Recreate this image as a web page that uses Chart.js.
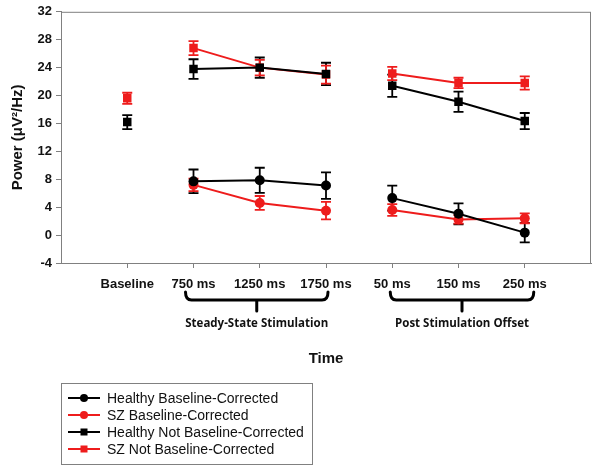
<!DOCTYPE html>
<html>
<head>
<meta charset="utf-8">
<script src="https://cdn.jsdelivr.net/npm/chart.js@4"></script>
<style>
  html, body { margin: 0; padding: 0; background: #fff; }
  #wrap { position: relative; width: 600px; height: 471px; }
  #legend {
    position: absolute; left: 61px; top: 383px; width: 252px; height: 82px;
    border: 1px solid #808080; box-sizing: border-box;
    font: 14px "Liberation Sans", Arial, sans-serif; color: #111;
    padding: 6px 0 0 6px;
  }
  #legend div { height: 17px; line-height: 17px; white-space: nowrap; }
  #legend svg { vertical-align: middle; margin-right: 7px; position: relative; top: -1px; }
</style>
</head>
<body>
<div id="wrap">
  <canvas id="powerChart" width="600" height="471"></canvas>
  <div id="legend"></div>
</div>
<script>
const timeLabels = ['', 'Baseline', '750 ms', '1250 ms', '1750 ms', '50 ms', '150 ms', '250 ms', ''];

// baseline-corrected (circles)
const healthyBC = [null, null, 7.7, 7.85, 7.1, 5.3, 3.05, 0.35, null];
const healthyBCErr = [0, 0, 1.7, 1.8, 1.9, 1.8, 1.5, 1.4, 0];
const szBC = [null, null, 7.2, 4.6, 3.5, 3.6, 2.25, 2.4, null];
const szBCErr = [0, 0, 0.9, 1.0, 1.25, 0.85, 0.6, 0.7, 0];

// not baseline-corrected (squares)
const healthyNBC = [null, 16.2, 23.8, 24.0, 23.1, 21.4, 19.1, 16.35, null];
const healthyNBCErr = [0, 1.0, 1.4, 1.45, 1.6, 1.6, 1.45, 1.15, 0];
const szNBC = [null, 19.6, 26.8, 24.0, 23.0, 23.15, 21.8, 21.8, null];
const szNBCErr = [0, 0.8, 1.0, 1.1, 1.3, 0.95, 0.75, 0.95, 0];

const RED = '#ee1c1c';
const BLACK = '#000000';

function series(label, data, err, color, style) {
    return {
        label: label,
        data: data,
        errors: err,
        borderColor: color,
        backgroundColor: color,
        borderWidth: 2,
        pointStyle: style,
        pointRadius: style === 'circle' ? 5 : 6,
        pointBorderWidth: 0,
        spanGaps: false,
        segment: {
            // no line from baseline, and none between the two blocks
            borderColor: ctx => (ctx.p0DataIndex === 1 || ctx.p0DataIndex === 4) ? 'transparent' : color
        }
    };
}

const errorBars = {
    id: 'errorBars',
    beforeDatasetsDraw(chart) {
        const ctx = chart.ctx;
        const y = chart.scales.y;
        ctx.save();
        chart.data.datasets.forEach((ds, di) => {
            const meta = chart.getDatasetMeta(di);
            ctx.strokeStyle = ds.borderColor;
            ctx.lineWidth = 1.8;
            meta.data.forEach((pt, i) => {
                const v = ds.data[i];
                if (v === null) return;
                const e = ds.errors[i];
                const top = y.getPixelForValue(v + e);
                const bot = y.getPixelForValue(v - e);
                ctx.beginPath();
                ctx.moveTo(pt.x, top); ctx.lineTo(pt.x, bot);
                ctx.moveTo(pt.x - 5, top); ctx.lineTo(pt.x + 5, top);
                ctx.moveTo(pt.x - 5, bot); ctx.lineTo(pt.x + 5, bot);
                ctx.stroke();
            });
        });
        ctx.restore();
    }
};

const frameAndBraces = {
    id: 'frameAndBraces',
    afterDraw(chart) {
        const ctx = chart.ctx;
        const a = chart.chartArea;
        const x = chart.scales.x;
        ctx.save();
        ctx.strokeStyle = '#808080';
        ctx.lineWidth = 1;
        ctx.strokeRect(a.left + 0.5, a.top + 0.5, a.right - a.left - 1, a.bottom - a.top);

        function brace(x0, x1, label) {
            const yTop = a.bottom + 29, yMid = a.bottom + 37, yTip = a.bottom + 48;
            const xc = (x0 + x1) / 2;
            ctx.strokeStyle = '#000';
            ctx.lineWidth = 3;
            ctx.lineCap = 'round';
            ctx.beginPath();
            ctx.moveTo(x0, yTop);
            ctx.quadraticCurveTo(x0, yMid, x0 + 6, yMid);
            ctx.lineTo(x1 - 6, yMid);
            ctx.quadraticCurveTo(x1, yMid, x1, yTop);
            ctx.moveTo(xc, yMid);
            ctx.lineTo(xc, yTip);
            ctx.stroke();
            ctx.fillStyle = '#111';
            ctx.font = 'bold 11.5px "Open Sans", sans-serif';
            ctx.textAlign = 'center';
            ctx.textBaseline = 'middle';
            ctx.fillText(label, xc, a.bottom + 61);
        }
        brace(x.getPixelForValue(2) - 8, x.getPixelForValue(4) + 2, 'Steady-State Stimulation');
        brace(x.getPixelForValue(5) - 2, x.getPixelForValue(7) + 9, 'Post Stimulation Offset');
        ctx.restore();
    }
};

const tickFont = { family: '"Liberation Sans", Arial, sans-serif', size: 13, weight: 'bold' };
const titleFont = { family: '"Liberation Sans", Arial, sans-serif', size: 15, weight: 'bold' };

new Chart(document.getElementById('powerChart').getContext('2d'), {
    type: 'line',
    data: {
        labels: timeLabels,
        datasets: [
            series('Healthy Baseline-Corrected', healthyBC, healthyBCErr, BLACK, 'circle'),
            series('SZ Baseline-Corrected', szBC, szBCErr, RED, 'circle'),
            series('Healthy Not Baseline-Corrected', healthyNBC, healthyNBCErr, BLACK, 'rect'),
            series('SZ Not Baseline-Corrected', szNBC, szNBCErr, RED, 'rect')
        ]
    },
    options: {
        responsive: false,
        animation: false,
        layout: { padding: { top: 11, right: 7, bottom: 103, left: 0 } },
        plugins: {
            legend: { display: false },
            tooltip: { enabled: false }
        },
        scales: {
            x: {
                offset: false,
                afterFit: s => { s.height = 105; },
                border: { color: '#808080' },
                grid: {
                    drawOnChartArea: false,
                    tickLength: 5,
                    color: '#808080',
                    tickColor: c => (c.index === 0 || c.index === 8) ? 'transparent' : '#808080'
                },
                ticks: { font: tickFont, color: '#111', autoSkip: false, maxRotation: 0, padding: 9 },
                title: { display: true, text: 'Time', font: titleFont, color: '#111', padding: { top: 0, bottom: 0 } }
            },
            y: {
                min: -4,
                max: 32,
                afterFit: s => { s.width = 61; },
                border: { color: '#808080' },
                grid: { drawOnChartArea: false, tickLength: 5, color: '#808080' },
                ticks: { stepSize: 4, font: tickFont, color: '#111', padding: 4 },
                title: { display: true, text: 'Power (\u03BCV\u00B2/Hz)', font: titleFont, color: '#111', padding: { top: 9, bottom: 0 } }
            }
        }
    },
    plugins: [errorBars, frameAndBraces]
});

// legend with line + marker swatches
const legendItems = [
    ['Healthy Baseline-Corrected', BLACK, 'circle'],
    ['SZ Baseline-Corrected', RED, 'circle'],
    ['Healthy Not Baseline-Corrected', BLACK, 'rect'],
    ['SZ Not Baseline-Corrected', RED, 'rect']
];
const legendEl = document.getElementById('legend');
legendItems.forEach(([text, color, shape]) => {
    const marker = shape === 'circle'
        ? `<circle cx="16" cy="6" r="4" fill="${color}"/>`
        : `<rect x="12.5" y="2.5" width="7" height="7" fill="${color}"/>`;
    const row = document.createElement('div');
    row.innerHTML = `<svg width="32" height="12"><line x1="0" y1="6" x2="32" y2="6" stroke="${color}" stroke-width="2"/>${marker}</svg>${text}`;
    legendEl.appendChild(row);
});
</script>
</body>
</html>
